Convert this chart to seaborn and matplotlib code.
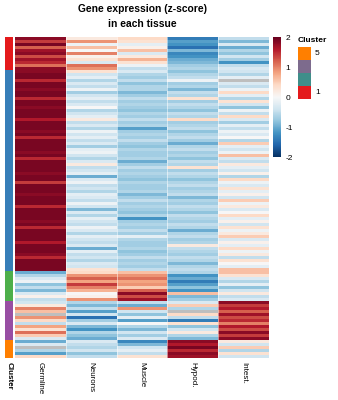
import numpy as np
import pandas as pd
import matplotlib
matplotlib.use("Agg")
import matplotlib.pyplot as plt
from matplotlib.colors import ListedColormap
from matplotlib.patches import Rectangle
import seaborn as sns

nan = np.nan

tissues = ["Germline", "Neurons", "Muscle", "Hypod.", "Intest."]
cluster_ids = [1, 2, 3, 4, 5]
cluster_sizes = [11, 67, 10, 13, 6]
cluster_colors = ["#E41A1C", "#377EB8", "#4DAF4A", "#984EA3", "#FF7F00"]
legend_colors = ["#FF7F00", "#7D6B8D", "#3F8E8A", "#E41A1C"]
legend_labels = ["5", "", "", "1"]
cbar_ticks = [-2, -1, 0, 1, 2]

# ---- cluster 1 ----
G1 = [1.8, 1.4, 1.9, 1.2, 1.7, 1.8, 1.3, 1.7, 1.5, 1.1, 1.8]
N1 = [0.2, 0.9, -0.1, 0.6, 0.0, 1.0, 0.1, 0.3, -0.3, 1.1, 0.9]
M1 = [0.4, 0.3, -0.2, 0.1, 0.6, -0.3, 0.2, 0.7, 0.3, -0.1, -0.5]
H1 = [-1.4, -1.1, -1.2, -1.5, -0.9, -1.3, -1.2, -1.0, -0.9, -0.7, -0.6]
I1 = [-0.5, -0.9, -0.3, -1.0, -0.6, -0.8, -0.4, -0.7, -1.2, -0.5, -0.3]

# ---- cluster 2 ----
G2 = [1.8, 1.9, 1.9, 1.5, 1.9, 1.9, 1.8, 1.9, 1.9, 1.5,
      1.9, 1.9, 1.8, 1.9, 1.9, 1.9, 1.6, 1.9, 1.9, 1.9,
      1.8, 1.9, 1.5, 1.9, 1.9, 1.9, 1.9, 1.8, 1.9, 1.5,
      1.9, 1.9, 1.9, 1.9, 1.8, 1.9, 1.9, 1.4, 1.9, 1.9,
      1.9, 1.8, 1.9, 1.9, 1.9, 1.5, 1.9, 1.9, 1.9, 1.9,
      1.8, 1.9, 1.5, 1.9, 1.9, 1.9, 1.9, 1.6, 1.9, 1.9,
      1.9, 1.8, 1.5, 1.9, 1.9, 1.9, 1.9]
N2 = [0.3, -0.4, -0.2, -0.6, -0.3, -0.5, -0.1, -0.7, -0.4, -0.2,
      -0.5, -0.3, 0.0, -0.6, -0.4, -0.2, 0.2, -0.5, -0.3, -0.6,
      -0.1, -0.4, -0.2, -0.5, -0.3, -0.7, -0.2, -0.1, -0.4, -0.6,
      -0.3, 0.2, -0.5, -0.4, -0.2, -1.0, -0.3, -0.1, -0.5, -0.4,
      -0.6, -0.2, -0.3, -0.5, -0.1, -0.4, -0.9, -0.3, -0.6, -0.2,
      -0.4, -0.5, -0.1, -0.3, -0.6, -0.2, -0.4, -0.5, -0.3, -1.0,
      -0.2, -0.5, -0.4, -0.6, -0.3, -0.4, 0.3]
M2 = [-0.3, -0.6, -0.7, -0.5, -0.8, -0.6, -0.6, -0.9, -0.7, -0.5,
      -0.7, -0.6, -0.7, -0.8, -0.6, -0.7, -0.5, -0.7, -0.6, -1.1,
      -0.7, -0.6, -0.7, -0.5, -0.7, -0.8, -0.6, -0.7, -0.7, -0.6,
      -1.0, -0.7, -0.5, -0.7, -0.6, -0.7, -0.8, -0.6, -0.7, -0.7,
      -0.6, -0.9, -0.7, -0.5, -0.7, -0.6, -0.7, -0.8, -0.6, -1.2,
      -0.7, -0.6, -0.7, -0.5, -0.7, -0.2, -0.6, -0.7, -0.7, -0.6,
      -0.8, -0.7, -0.5, -0.7, -0.6, -0.7, -0.5]
H2 = [-0.8, -0.6, -0.5, -0.1, -0.7, -0.6, -0.9, -0.5, -0.6, 0.3,
      -0.7, -0.5, -0.6, -0.8, -0.5, -0.6, 0.4, -0.7, -0.6, -0.5,
      -0.8, -0.6, -0.5, -0.7, -1.0, -0.6, -0.5, -0.7, -0.6, -0.8,
      -0.5, -0.6, 0.3, -0.7, -0.5, -0.6, -0.8, -0.6, -0.5, -0.7,
      -0.6, -0.5, -0.9, -0.6, -0.7, -0.5, -0.6, -0.8, -0.5, -0.6,
      -0.7, -0.5, -0.6, -1.0, -0.6, -0.5, -0.7, -0.6, 0.2, -0.5,
      -0.6, -0.7, -0.5, -0.6, -0.9, -0.6, -0.5]
I2 = [-0.4, -0.6, -0.2, nan, -0.3, -0.5, -0.1, 0.4, -0.2, -0.6,
      0.3, -0.4, -0.8, -0.1, -0.5, 0.4, -0.3, -0.7, -0.2, -0.5,
      -0.1, -0.3, 0.0, -0.6, 0.5, -0.2, -0.4, -0.1, 0.6, -0.3,
      -0.5, 0.2, -0.2, -0.4, 0.1, -0.6, 0.4, -0.1, -0.3, 0.3,
      -0.2, 0.1, -0.4, 0.5, -0.1, 0.2, -0.3, 0.0, 0.4, -0.2,
      0.1, -0.4, 0.3, -0.1, 0.2, 0.5, -0.3, 0.1, -0.2, 0.4,
      -0.1, 0.2, -0.5, 0.3, 0.0, -0.2, 0.6]

# ---- cluster 3 ----
G3 = [-1.0, -0.6, -0.3, -0.1, -0.8, -0.5, -0.9, -0.3, 0.1, -0.5]
N3 = [0.4, 0.9, 1.2, 0.8, 1.4, 1.0, 0.7, 0.0, 0.1, 0.9]
M3 = [0.6, 0.9, 1.1, 0.8, 0.9, 0.5, 1.2, 1.8, 1.3, 1.7]
H3 = [-0.6, -1.2, -1.0, -1.4, -1.1, -0.8, -1.2, 0.6, -0.9, -0.7]
I3 = [0.6, 0.3, -0.3, -0.6, -0.2, -0.8, -0.4, 0.2, -0.5, -0.3]

# ---- cluster 4 ----
G4 = [-0.4, 0.2, 1.0, 0.6, nan, 0.9, 0.4, -0.5, 0.8, 0.3, 1.1, 0.5, -0.3]
N4 = [-0.6, -0.9, -0.5, -1.1, -0.4, -1.5, -0.7, -0.3, -0.9, -1.2, -0.6, -0.8, -1.0]
M4 = [-0.5, -1.0, 0.9, -0.4, -0.8, -0.2, -1.1, 0.0, -0.6, -0.9, -0.4, -0.7, -0.3]
H4 = [-0.3, 0.5, -0.6, nan, 0.4, -0.5, -1.4, 0.3, -0.8, -0.4, 0.2, -0.6, -0.9]
I4 = [1.8, 1.4, 1.6, 1.2, 1.7, 1.3, 1.5, 1.0, 1.6, 1.3, 1.8, 1.4, 1.8]

# ---- cluster 5 ----
G5 = [-1.0, -0.3, nan, -0.6, -1.1, 0.4]
N5 = [-0.3, -0.5, -0.6, -0.4, -0.8, -0.5]
M5 = [-1.3, -0.9, -0.4, -0.2, -0.5, 0.3]
H5 = [1.8, 1.6, 1.9, 1.5, 1.8, 1.7]
I5 = [0.2, -0.4, 0.5, -0.6, 0.3, -0.4]

germline = G1 + G2 + G3 + G4 + G5
neurons = N1 + N2 + N3 + N4 + N5
muscle = M1 + M2 + M3 + M4 + M5
hypod = H1 + H2 + H3 + H4 + H5
intest = I1 + I2 + I3 + I4 + I5

df = pd.DataFrame({"Germline": germline, "Neurons": neurons, "Muscle": muscle,
                   "Hypod.": hypod, "Intest.": intest})[tissues]
clusters = pd.DataFrame({"Cluster": np.repeat(cluster_ids, cluster_sizes)})

plt.rcParams["font.family"] = ["Liberation Sans", "DejaVu Sans"]
plt.rcParams["axes.unicode_minus"] = False

W, H = 338, 400
fig = plt.figure(figsize=(W / 100, H / 100), dpi=100)


def px_axes(x0, y0, x1, y1):
    return fig.add_axes([x0 / W, 1 - y1 / H, (x1 - x0) / W, (y1 - y0) / H])


ax_ann = px_axes(5, 37, 13, 358)
ax = px_axes(15, 37, 269, 358)
cax = px_axes(273, 37, 281, 157)

sns.heatmap(clusters, ax=ax_ann, cmap=ListedColormap(cluster_colors), vmin=0.5, vmax=5.5,
            cbar=False, yticklabels=False, xticklabels=["Cluster"])
ax_ann.tick_params(length=0, pad=3)
for t in ax_ann.get_xticklabels():
    t.set_rotation(-90)
    t.set_va("top")
    t.set_ha("center")
    t.set_fontsize(5.8)
    t.set_fontweight("bold")

ax.set_facecolor("#BEBEBE")
sns.heatmap(df, ax=ax, cmap="RdBu_r", vmin=-2, vmax=2, cbar_ax=cax,
            yticklabels=False, xticklabels=tissues)
ax.tick_params(length=0, pad=3)
for t in ax.get_xticklabels():
    t.set_rotation(-90)
    t.set_va("top")
    t.set_ha("center")
    t.set_fontsize(5.8)
for xb in range(1, len(tissues)):
    ax.axvline(xb, color="white", lw=0.6, alpha=0.6)

cax.set_yticks(cbar_ticks)
cax.set_yticklabels([str(v) for v in cbar_ticks])
cax.tick_params(length=0, labelsize=6, pad=3)
for s in cax.spines.values():
    s.set_visible(False)

# title
fig.text(142 / W, 1 - 9.5 / H, "Gene expression (z-score)", ha="center", va="center",
         fontsize=7.4, fontweight="bold")
fig.text(142 / W, 1 - 24 / H, "in each tissue", ha="center", va="center",
         fontsize=7.4, fontweight="bold")

# cluster legend
fig.text(298 / W, 1 - 41 / H, "Cluster", ha="left", va="center", fontsize=6,
         fontweight="bold")
for i, (c, lab) in enumerate(zip(legend_colors, legend_labels)):
    y0 = 47 + i * 13
    fig.patches.append(Rectangle((298 / W, 1 - (y0 + 13) / H), 13 / W, 13 / H,
                                 transform=fig.transFigure, facecolor=c, edgecolor="none"))
    if lab:
        fig.text(315 / W, 1 - (y0 + 6.5) / H, lab, ha="left", va="center", fontsize=6)

fig.savefig("out.png", dpi=100)
